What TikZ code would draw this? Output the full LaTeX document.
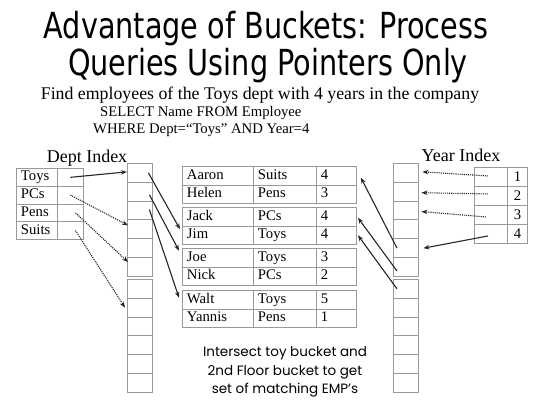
\documentclass[tikz,border=0pt]{standalone}
\usepackage{fontspec}
\setmainfont{Liberation Serif}
\newfontfamily\titlefont{DejaVu Sans}
\newfontfamily\notefont{Poppins}
\usetikzlibrary{arrows.meta,calc}

\begin{document}
\begin{tikzpicture}[x=1pt,y=-1pt,
  gridline/.style={draw=gray!80, line width=0.9pt},
  cell/.style={gridline, inner sep=0pt, anchor=north west,
    minimum width=24.5pt, minimum height=18.83pt},
  tcell/.style={gridline, anchor=north west, inner xsep=4.5pt, inner ysep=0pt,
    minimum height=#1, align=left, text height=10pt, text depth=3pt,
    font=\fontsize{14.7}{16}\selectfont},
  ptr/.style={-{Stealth[length=6pt,width=4.5pt]}, line width=1.1pt, black!85},
  dptr/.style={ptr, densely dotted},
  caption/.style={font=\fontsize{18}{20}\selectfont},
  heading/.style={font=\titlefont\fontsize{28.7}{37}\selectfont, inner sep=0pt},
]
\useasboundingbox (0,0) rectangle (537,404);

% heading and query
\node[heading] (title1) at (266,29) {\scalebox{1}[1.25]{Advantage of Buckets: Process}};
\node[heading] (title2) at (268,66) {\scalebox{1}[1.25]{Queries Using Pointers Only}};
\node[font=\fontsize{17.8}{20}\selectfont] (task) at (260,95)
  {Find employees of the Toys dept with 4 years in the company};
\node[font=\fontsize{14.7}{16}\selectfont, anchor=west, inner sep=0pt] (sql1) at (100,113)
  {SELECT Name FROM Employee};
\node[font=\fontsize{14.7}{16}\selectfont, anchor=west, inner sep=0pt] (sql2) at (93,130)
  {WHERE Dept=“Toys” AND Year=4};

% bucket columns
\foreach \i in {1,...,6} {
  \node[cell] (L\i) at (127,{163+(\i-1)*18.83}) {};
  \node[cell] (R\i) at (393,{163+(\i-1)*18.83}) {};
}
\foreach \i in {7,...,12} {
  \node[cell] (L\i) at (127,{279+(\i-7)*18.83}) {};
  \node[cell] (R\i) at (393,{279+(\i-7)*18.83}) {};
}

% dept index
\node[caption] (dlabel) at (87,158) {Dept Index};
\foreach \k/\t [count=\j from 0] in {dT/Toys, dP/PCs, dPe/Pens, dS/Suits} {
  \node[tcell=17.75pt, text width=32pt] (\k n) at (16,{168+\j*17.75}) {\t};
  \node[gridline, anchor=north west, minimum width=26pt, minimum height=17.75pt,
    inner sep=0pt] (\k) at (57,{168+\j*17.75}) {};
}

% year index
\node[caption] (ylabel) at (461,155) {Year Index};
\foreach \n [count=\j from 0] in {1,2,3,4} {
  \node[gridline, anchor=north west, minimum width=33pt, minimum height=19pt,
    inner sep=0pt] (y\n) at (474,{167+\j*19}) {};
  \node[gridline, anchor=north west, minimum width=20pt, minimum height=19pt,
    inner sep=0pt, font=\fontsize{14.7}{16}\selectfont] (y\n n) at (507,{167+\j*19}) {\n};
}

% employee records, two per bucket
\foreach \k/\ename/\edept/\eyear/\etop in {
    e1/Aaron/Suits/4/166, e2/Helen/Pens/3/184.5,
    e3/Jack/PCs/4/207, e4/Jim/Toys/4/225.5,
    e5/Joe/Toys/3/248, e6/Nick/PCs/2/266.5,
    e7/Walt/Toys/5/290, e8/Yannis/Pens/1/308.5} {
  \node[tcell=18.5pt, text width=62pt] (\k) at (182,\etop) {\ename};
  \node[tcell=18.5pt, text width=54pt] (\k d) at (253,\etop) {\edept};
  \node[tcell=18.5pt, text width=31pt] (\k y) at (316,\etop) {\eyear};
}

% dept index pointers into the left buckets
\draw[ptr]  (dT.center) -- ($(L1.west)+(0,-1)$);
\draw[dptr] (dP.center) -- ($(L4.west)+(1,-4)$);
\draw[dptr] ($(dPe.center)+(5,0)$) -- ($(L6.west)+(1,-5)$);
\draw[dptr] ($(dS.center)+(5,0)$) -- ($(L8.west)+(-2,0)$);

% toy bucket pointers to records
\draw[ptr] ($(L1.east)+(-4,0)$) -- ($(e4.west)+(-2,-6)$);
\draw[ptr] ($(L2.east)+(-3,3)$) -- ($(e5.west)+(-3,-7)$);
\draw[ptr] ($(L3.east)+(-3,-1)$) -- ($(e7.west)+(-3,-2)$);

% year index pointers into the right buckets
\draw[dptr] ($(y1.center)+(-3,-1)$) -- ($(R1.east)+(4,-1)$);
\draw[dptr] ($(y2.center)+(-3,-2)$) -- ($(R2.east)+(3,1)$);
\draw[dptr] ($(y3.center)+(-5,2)$) -- ($(R3.east)+(3,1)$);
\draw[ptr]  ($(y4.center)+(-3,2)$) -- ($(R5.east)+(5,0)$);

% year-4 bucket pointers to records
\draw[ptr] ($(R5.west)+(4,0)$) -- ($(e1y.east)+(4,2)$);
\draw[ptr] ($(R6.west)+(4,4)$) -- ($(e3y.east)+(1,1)$);
\draw[ptr] ($(R7.west)+(4,0)$) -- ($(e4y.east)+(1,0)$);

% note
\node[font=\notefont\fontsize{13.5}{18.5}\selectfont, align=center] (note) at (285,372)
  {Intersect toy bucket and\\2nd Floor bucket to get\\set of matching EMP’s};
\end{tikzpicture}
\end{document}
